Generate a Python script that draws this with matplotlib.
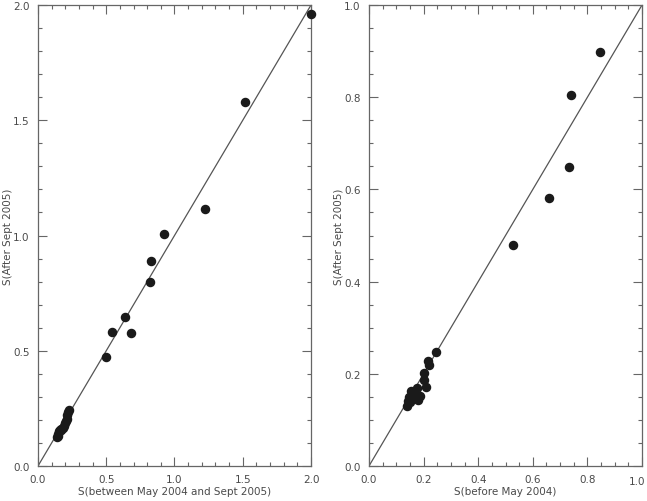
import matplotlib
matplotlib.use("Agg")
import matplotlib.pyplot as plt
from matplotlib.ticker import MultipleLocator, FuncFormatter

# left panel: S(between May 2004 and Sept 2005) vs S(After Sept 2005)
mid_x = [2.00, 1.52, 1.22, 0.92, 0.83, 0.82, 0.64, 0.54, 0.68, 0.50,
         0.14, 0.145, 0.15, 0.155, 0.16, 0.165, 0.17, 0.18, 0.19, 0.20,
         0.205, 0.21, 0.215, 0.22, 0.225]
mid_y = [1.96, 1.58, 1.115, 1.005, 0.89, 0.80, 0.645, 0.58, 0.577, 0.475,
         0.125, 0.13, 0.14, 0.15, 0.155, 0.16, 0.155, 0.165, 0.175, 0.185,
         0.195, 0.205, 0.22, 0.235, 0.245]

# right panel: S(before May 2004) vs S(After Sept 2005)
pre_x = [0.845, 0.741, 0.734, 0.659, 0.527,
         0.247, 0.215, 0.221, 0.203, 0.201, 0.21, 0.176, 0.154, 0.187,
         0.181, 0.166, 0.147, 0.144, 0.138, 0.15, 0.156]
pre_y = [0.898, 0.805, 0.649, 0.581, 0.479,
         0.247, 0.227, 0.22, 0.202, 0.186, 0.171, 0.169, 0.162, 0.151,
         0.144, 0.156, 0.149, 0.142, 0.131, 0.138, 0.145]

txt = "#4a4a4a"
plt.rcParams["font.family"] = "DejaVu Sans"
plt.rcParams["font.size"] = 7.5

fig = plt.figure(figsize=(6.47, 5.02), dpi=100)
ax1 = fig.add_axes([0.0587, 0.0697, 0.422, 0.9183])
ax2 = fig.add_axes([0.5703, 0.0697, 0.422, 0.9183])


def style(ax, lim, major, minor, xlabel):
    ax.set_xlim(0, lim)
    ax.set_ylim(0, lim)
    ax.plot([0, lim], [0, lim], color="#555555", lw=0.9, zorder=1)
    ax.xaxis.set_major_locator(MultipleLocator(major))
    ax.yaxis.set_major_locator(MultipleLocator(major))
    ax.xaxis.set_minor_locator(MultipleLocator(minor))
    ax.yaxis.set_minor_locator(MultipleLocator(minor))
    ax.xaxis.set_major_formatter(plt.FormatStrFormatter("%.1f"))
    ax.yaxis.set_major_formatter(plt.FormatStrFormatter("%.1f"))
    ax.tick_params(which="both", direction="in", top=True, right=True,
                   colors="#666666", labelcolor=txt, width=0.8)
    ax.tick_params(which="major", length=6.5, pad=6)
    ax.tick_params(which="minor", length=3)
    for s in ax.spines.values():
        s.set_color("#666666")
        s.set_linewidth(0.9)
    ax.set_xlabel(xlabel, color=txt, labelpad=1)
    ax.set_ylabel("S(After Sept 2005)", color=txt)
    ax.yaxis.set_label_coords(-0.09, 0.5)


ax1.scatter(mid_x, mid_y, s=34, color="#1a1a1a", zorder=3, clip_on=False)
style(ax1, 2.0, 0.5, 0.1, "S(between May 2004 and Sept 2005)")

ax2.scatter(pre_x, pre_y, s=34, color="#1a1a1a", zorder=3, clip_on=False)
style(ax2, 1.0, 0.2, 0.05, "S(before May 2004)")

# last x label of the right panel drawn a little left so it stays on the page
ax2.xaxis.set_major_formatter(
    FuncFormatter(lambda v, p: "" if v > 0.99 else "%.1f" % v))
ax2.annotate("1.0", xy=(1, 0), xycoords="axes fraction",
             xytext=(-3.5, -6 - 0.9), textcoords="offset points",
             ha="center", va="top", color=txt)

fig.savefig("out.png", dpi=100)
